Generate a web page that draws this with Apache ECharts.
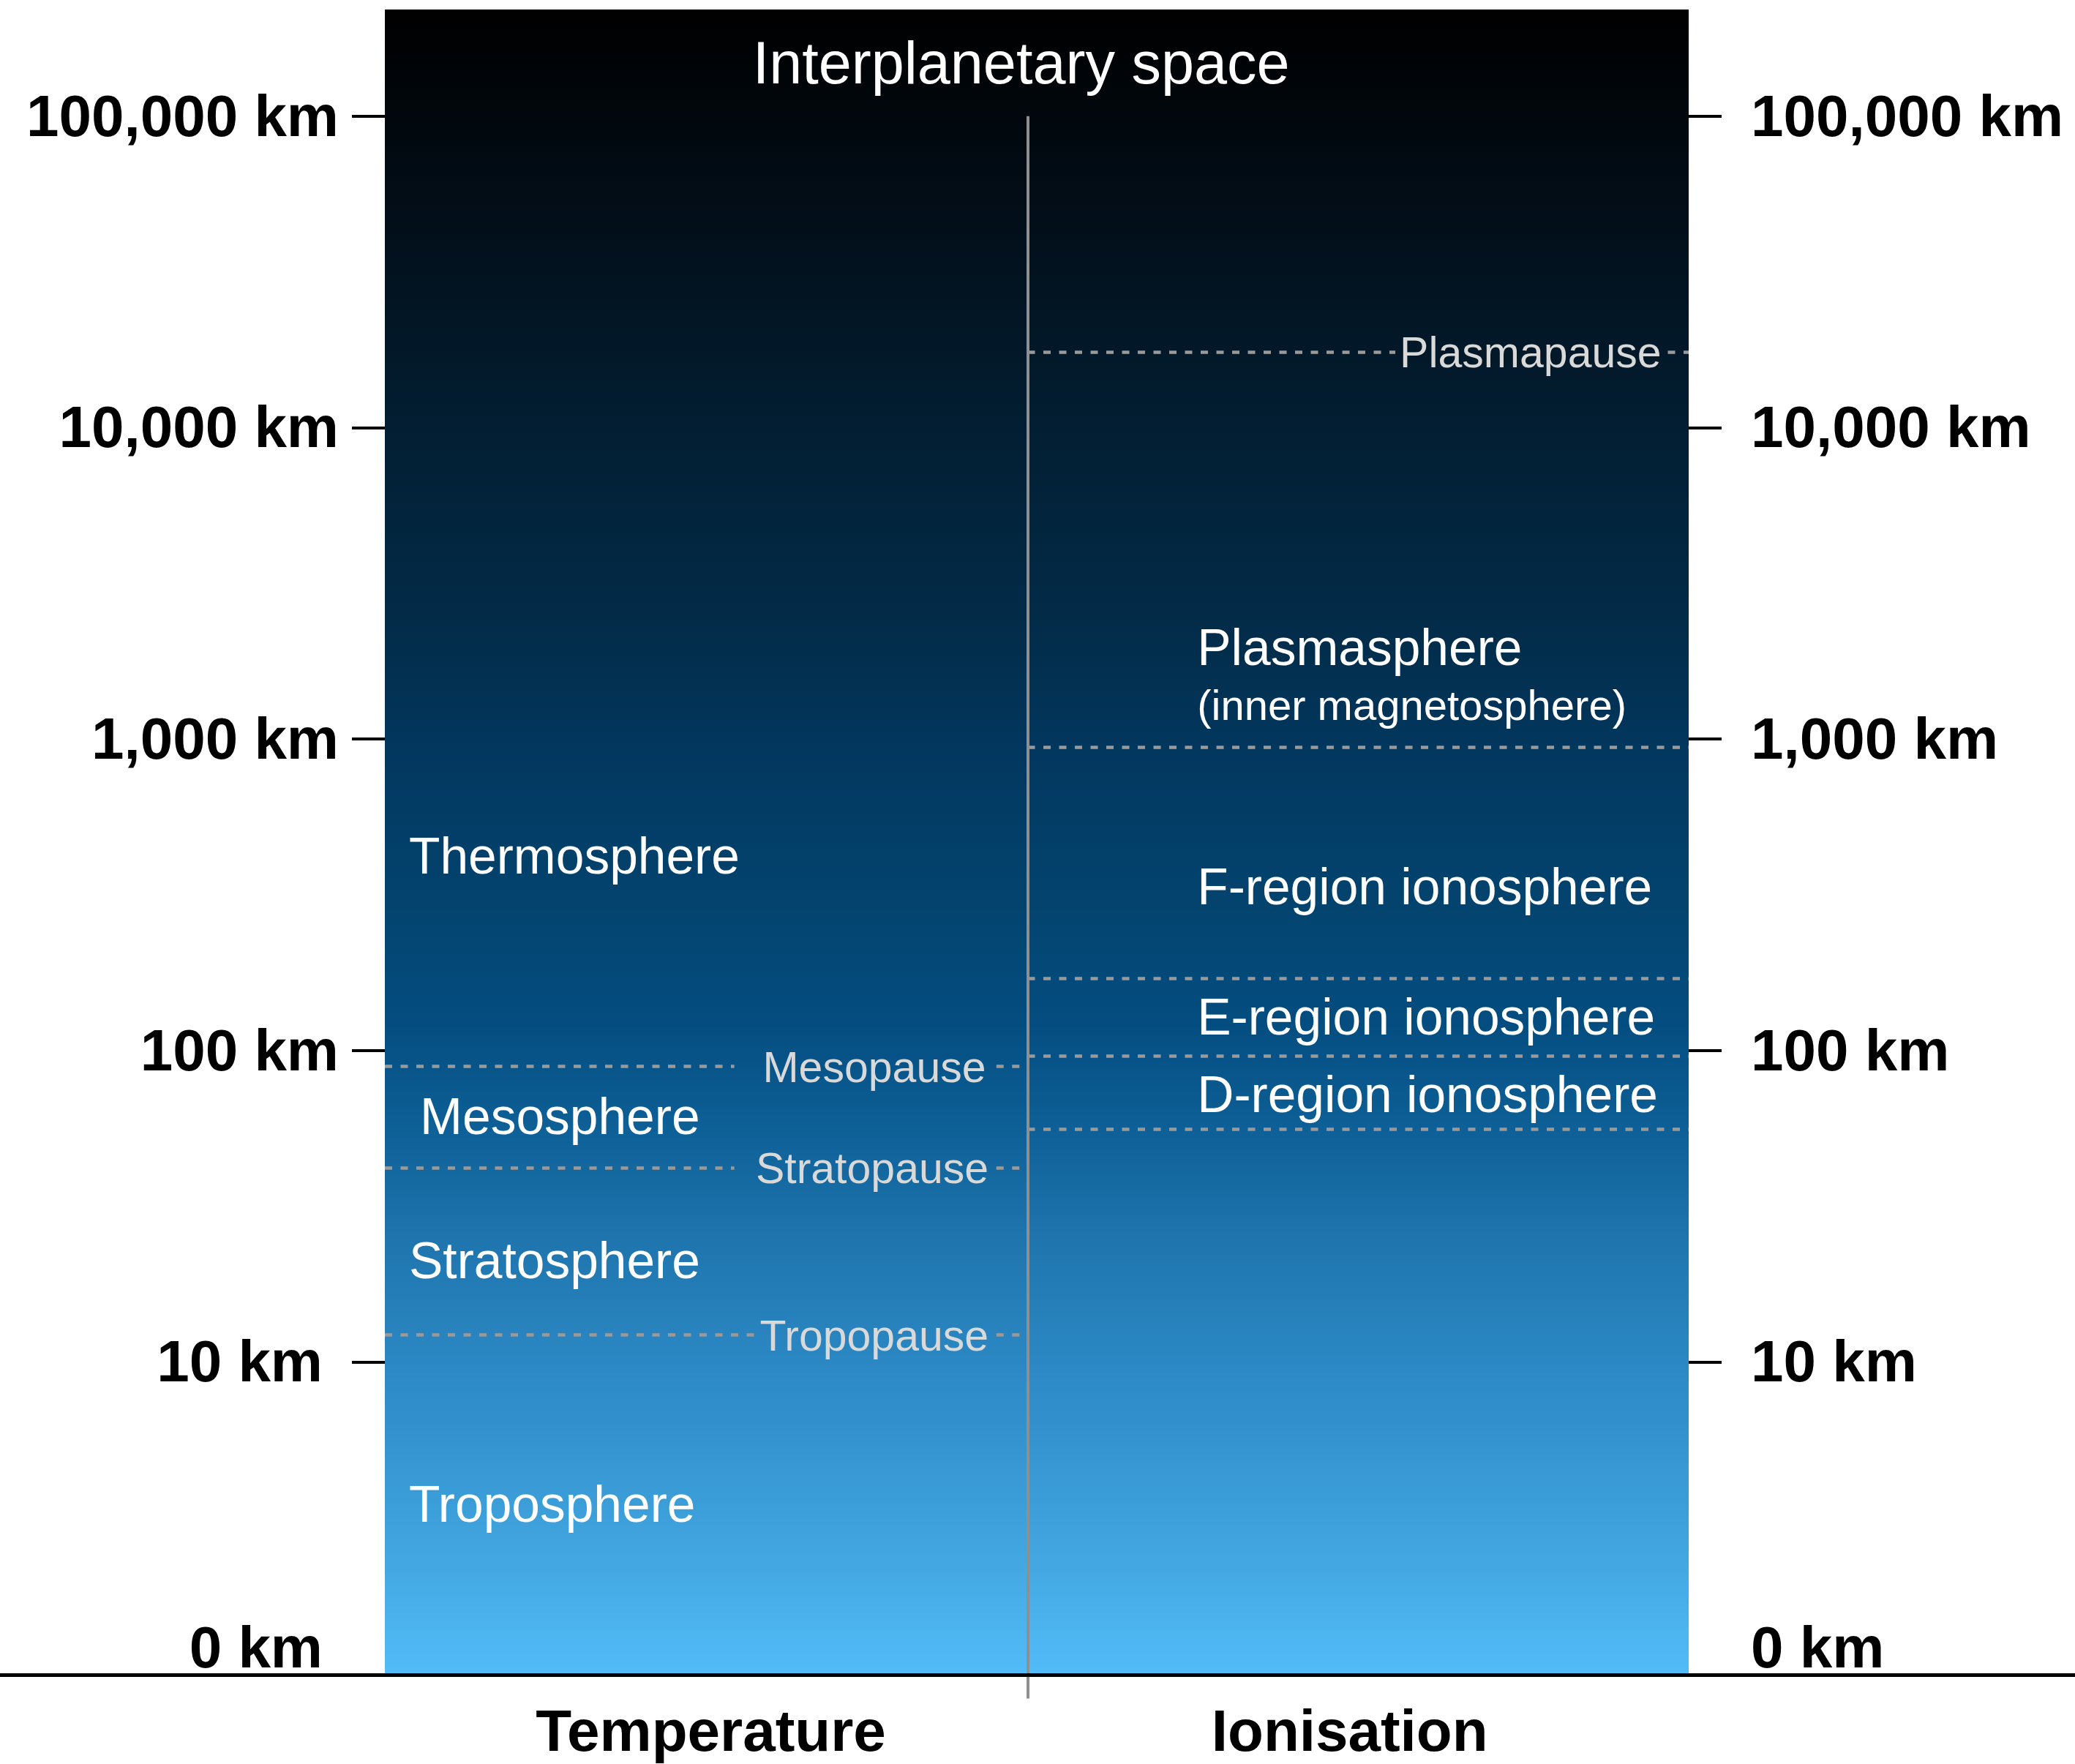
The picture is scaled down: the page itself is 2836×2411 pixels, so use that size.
<!DOCTYPE html>
<html>
<head>
<meta charset="utf-8">
<title>Layers of the atmosphere</title>
<script src="https://cdn.jsdelivr.net/npm/echarts@6/dist/echarts.min.js"></script>
<style>
  html, body { margin: 0; padding: 0; background: #fff; }
  #chart { width: 2836px; height: 2411px; }
</style>
</head>
<body>
<div id="chart"></div>
<script>
// altitude axis, km on a log scale (the "0 km" line sits at 1 km)
const altitudeTicks = [1, 10, 100, 1000, 10000, 100000]
const altitudeTickLabels = ['0 km', '10 km', '100 km', '1,000 km', '10,000 km', '100,000 km']
const altitudeMin = 1
const altitudeMax = 220000

const columns = ['Temperature', 'Ionisation']

// temperature column
const tempLayers = ['Thermosphere', 'Mesosphere', 'Stratosphere', 'Troposphere']
const tempLayerKm = [422, 61.5, 21.1, 3.5]
const tempPauses = ['Mesopause', 'Stratopause', 'Tropopause']
const tempPauseKm = [89, 42, 12.2]

// ionisation column
const ionLayers = ['Plasmasphere', 'F-region ionosphere', 'E-region ionosphere', 'D-region ionosphere']
const ionLayerKm = [1970, 336, 128, 72.4]
const ionNote = '(inner magnetosphere)'
const ionNoteKm = 1290
const ionPauses = ['Plasmapause']
const ionPauseKm = [17500]
const ionBoundaryKm = [940, 170, 96, 56]

const spaceLabel = 'Interplanetary space'
const spaceKm = 148000

// layout, x in percent of the plot width
const X_DIVIDER = 49.3
const X_CENTERS = [25, 74]
const X_TEMP_TEXT = [1.85, 2.7, 1.85, 1.85]
const X_ION_TEXT = 62.3
const X_TEMP_END = 48.7
const X_TEMP_GAP = [[26.8, 46.9], [26.8, 46.9], [28.5, 46.9]]
const X_TEMP_LABEL_END = [46.1, 46.3, 46.3]
const X_ION_GAP = [[77.5, 98.4]]
const X_ION_LABEL_END = [97.9]
const X_SPACE = 48.8

const FONT = "'Liberation Sans', 'Helvetica Neue', Arial, sans-serif"
const DASH = { color: '#9a9a9a', width: 4.5, type: [10, 11.5], opacity: 1 }
const TICK_FONT = { fontFamily: FONT, fontSize: 80, fontWeight: 'bold', color: '#000' }

const chart = echarts.init(document.getElementById('chart'))

function tickIndex(v) {
  return altitudeTicks.findIndex(t => Math.abs(Math.log10(t) - Math.log10(v)) < 1e-6)
}

function yAxisFor(side) {
  const left = side === 'left'
  const pad = left ? 22 : 0
  return {
    type: 'log',
    logBase: 10,
    position: side,
    min: altitudeMin,
    max: altitudeMax,
    axisLine: { show: false },
    splitLine: { show: false },
    axisTick: {
      show: true,
      customValues: altitudeTicks.slice(1),
      length: 45,
      lineStyle: { color: '#000', width: 4 },
    },
    axisLabel: {
      customValues: altitudeTicks,
      margin: left ? 63 : 85,
      formatter(v) {
        const i = tickIndex(v)
        if (i < 0) return ''
        const txt = altitudeTickLabels[i]
        if (i === 0) return '{zero|' + txt + '}'
        if (i === 1) return '{near|' + txt + '}'
        return '{t|' + txt + '}'
      },
      ...TICK_FONT,
      rich: {
        zero: { ...TICK_FONT, padding: [0, pad, 60, 0] },
        near: { ...TICK_FONT, padding: [10, pad, 0, 0] },
        t: { ...TICK_FONT, padding: [10, 0, 0, 0] },
      },
    },
  }
}

// dotted boundary segments
const boundaryLines = []
tempPauseKm.forEach((km, i) => {
  boundaryLines.push({ coords: [[0, km], [X_TEMP_GAP[i][0], km]] })
  boundaryLines.push({ coords: [[X_TEMP_GAP[i][1], km], [X_TEMP_END, km]] })
})
ionPauseKm.forEach((km, i) => {
  boundaryLines.push({ coords: [[X_DIVIDER, km], [X_ION_GAP[i][0], km]] })
  boundaryLines.push({ coords: [[X_ION_GAP[i][1], km], [100, km]] })
})
ionBoundaryKm.forEach(km => {
  boundaryLines.push({ coords: [[X_DIVIDER, km], [100, km]] })
})

function textItem(x, km, name, align) {
  return { value: [x, km], name: name, label: { align: align } }
}

const layerText = tempLayers.map((n, i) => textItem(X_TEMP_TEXT[i], tempLayerKm[i], n, 'left'))
  .concat(ionLayers.map((n, i) => textItem(X_ION_TEXT, ionLayerKm[i], n, 'left')))

const pauseText = tempPauses.map((n, i) => textItem(X_TEMP_LABEL_END[i], tempPauseKm[i], n, 'right'))
  .concat(ionPauses.map((n, i) => textItem(X_ION_LABEL_END[i], ionPauseKm[i], n, 'right')))

function textSeries(data, size, color) {
  return {
    type: 'scatter',
    symbolSize: 1,
    itemStyle: { color: 'rgba(0,0,0,0)', opacity: 1 },
    silent: true,
    z: 5,
    data: data,
    label: {
      show: true,
      position: 'inside',
      verticalAlign: 'middle',
      offset: [0, 5],
      formatter: p => p.name,
      fontFamily: FONT,
      fontSize: size,
      color: color,
      opacity: 1,
      textBorderWidth: 0,
    },
  }
}

chart.setOption({
  animation: false,
  backgroundColor: '#fff',
  grid: {
    left: 526,
    right: 528,
    top: 13,
    bottom: 123,
    show: true,
    borderWidth: 0,
    backgroundColor: {
      type: 'linear', x: 0, y: 0, x2: 0, y2: 1,
      colorStops: [
        { offset: 0, color: '#000000' },
        { offset: 0.12, color: '#020e18' },
        { offset: 0.25, color: '#021e32' },
        { offset: 0.38, color: '#022d4b' },
        { offset: 0.45, color: '#023860' },
        { offset: 0.54, color: '#03446f' },
        { offset: 0.61, color: '#044d80' },
        { offset: 0.67, color: '#0d5f96' },
        { offset: 0.74, color: '#1f75ae' },
        { offset: 0.83, color: '#2e8cc8' },
        { offset: 0.93, color: '#42a6e0' },
        { offset: 1, color: '#52bcf8' },
      ],
    },
  },
  xAxis: {
    type: 'value',
    min: 0,
    max: 100,
    axisLine: { show: false },
    axisTick: { show: false },
    splitLine: { show: false },
    axisLabel: {
      customValues: X_CENTERS,
      formatter: v => columns[X_CENTERS.indexOf(v)] || '',
      margin: 44,
      ...TICK_FONT,
    },
  },
  yAxis: [yAxisFor('left'), yAxisFor('right')],
  series: [
    {
      name: 'boundaries',
      type: 'lines',
      coordinateSystem: 'cartesian2d',
      silent: true,
      z: 3,
      lineStyle: DASH,
      data: boundaryLines,
    },
    {
      name: 'divider',
      type: 'lines',
      coordinateSystem: 'cartesian2d',
      silent: true,
      clip: false,
      z: 4,
      lineStyle: { color: '#8f8f8f', width: 4, type: 'solid', opacity: 1 },
      data: [{ coords: [[X_DIVIDER, 100000], [X_DIVIDER, 0.83]] }],
    },
    textSeries(layerText, 69.5, '#fff'),
    textSeries(pauseText, 59, '#d9d9d9'),
    textSeries([textItem(X_ION_TEXT, ionNoteKm, ionNote, 'left')], 58, '#fff'),
    textSeries([textItem(X_SPACE, spaceKm, spaceLabel, 'center')], 81, '#fff'),
  ],
})

// ground line across the whole picture
const yBase = chart.convertToPixel({ yAxisIndex: 0 }, altitudeMin)
chart.setOption({
  graphic: [{
    type: 'line',
    z: 100,
    silent: true,
    shape: { x1: 0, y1: yBase + 2.5, x2: chart.getWidth(), y2: yBase + 2.5 },
    style: { stroke: '#000', lineWidth: 5 },
  }],
})
</script>
</body>
</html>
